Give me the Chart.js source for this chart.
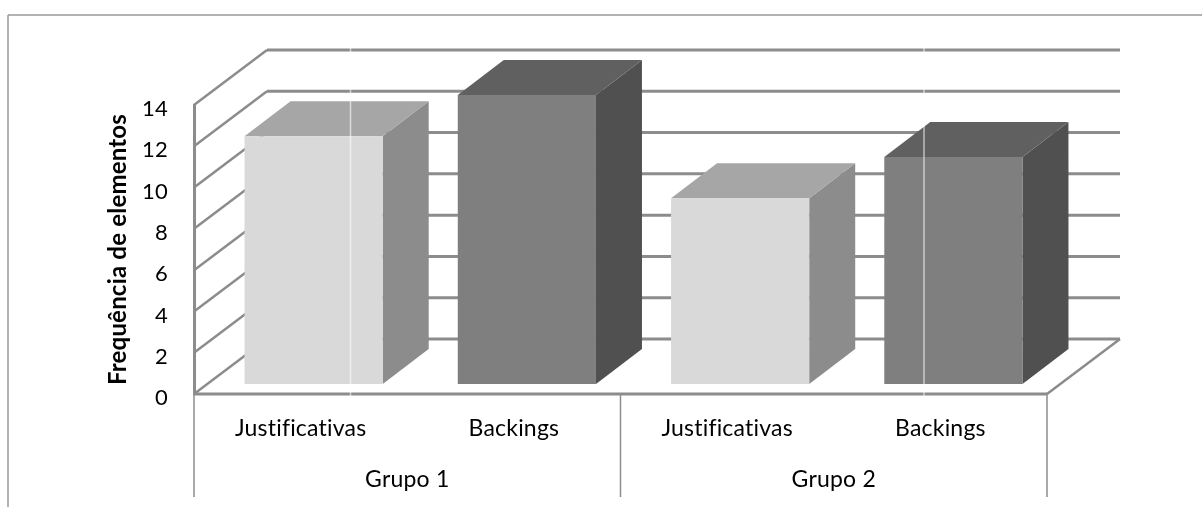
<!DOCTYPE html>
<html>
<head>
<meta charset="utf-8">
<style>
  html,body{margin:0;padding:0;background:#fff;overflow:hidden}
  canvas{display:block}
</style>
<script src="https://cdn.jsdelivr.net/npm/chart.js@4/dist/chart.umd.min.js"></script>
</head>
<body>
<canvas id="chart" width="1202" height="507"></canvas>
<script>
// data
const categories=['Justificativas','Backings','Justificativas','Backings'];
const groups=['Grupo 1','Grupo 2'];
const frequencias=[12,14,9,11];
const frontColors=['#d9d9d9','#7f7f7f','#d9d9d9','#7f7f7f'];
const topColors=['#a6a6a6','#606060','#a6a6a6','#606060'];
const sideColors=['#8c8c8c','#505050','#8c8c8c','#505050'];

// fake 3d: how far the back wall and the bars sit from the front plane
const wall={dx:73,dy:-55};
const barDepth={dx:46,dy:-35};
const barShift={dx:13,dy:-10};
const lineColor='#8c8c8c';
const font='Lato, "Open Sans", sans-serif';

function seg(ctx,x1,y1,x2,y2,color,w){
  ctx.beginPath();
  ctx.moveTo(x1,y1);
  ctx.lineTo(x2,y2);
  ctx.strokeStyle=color;
  ctx.lineWidth=w;
  ctx.stroke();
}
function poly(ctx,pts,color){
  ctx.beginPath();
  pts.forEach((p,i)=>i?ctx.lineTo(p[0],p[1]):ctx.moveTo(p[0],p[1]));
  ctx.closePath();
  ctx.fillStyle=color;
  ctx.fill();
}

const box3d={
  id:'box3d',
  beforeDraw(chart){
    // a little tracking also turns off the ti/fi ligatures in Lato
    chart.ctx.letterSpacing='0.2px';
  },
  beforeDatasetsDraw(chart){
    const {ctx,chartArea:a,scales:{y}}=chart;
    // outer frame, only top and left are there
    seg(ctx,8,15,chart.width,15,'#999',1.5);
    seg(ctx,8,15,8,chart.height,'#999',1.5);

    // walls: slanted part + back line per tick
    y.ticks.forEach(t=>{
      const py=y.getPixelForValue(t.value);
      seg(ctx,a.left,py,a.left+wall.dx,py+wall.dy,lineColor,2.5);
      seg(ctx,a.left+wall.dx,py+wall.dy,a.right+wall.dx,py+wall.dy,lineColor,3);
    });
    // floor right edge
    seg(ctx,a.right,a.bottom,a.right+wall.dx,a.bottom+wall.dy,lineColor,2.5);

    // side and top faces, the front face is the bar element
    ctx.save();
    ctx.translate(barShift.dx,barShift.dy);
    chart.getDatasetMeta(0).data.forEach((b,i)=>{
      const l=b.x-b.width/2,r=b.x+b.width/2;
      poly(ctx,[[r,b.y],[r+barDepth.dx,b.y+barDepth.dy],[r+barDepth.dx,b.base+barDepth.dy],[r,b.base]],sideColors[i]);
      poly(ctx,[[l,b.y],[l+barDepth.dx,b.y+barDepth.dy],[r+barDepth.dx,b.y+barDepth.dy],[r,b.y]],topColors[i]);
    });
    ctx.restore();
  },
  beforeDatasetDraw(chart){
    chart.ctx.save();
    chart.ctx.translate(barShift.dx,barShift.dy);
  },
  afterDatasetDraw(chart){
    chart.ctx.restore();
  },
  afterDraw(chart){
    const {ctx,chartArea:a,scales:{x}}=chart;
    // front floor edge and the group dividers under it
    seg(ctx,a.left-1,a.bottom,a.right,a.bottom,lineColor,3);
    const mid=(x.left+x.right)/2;
    [x.left,mid,x.right].forEach(px=>seg(ctx,px,a.bottom,px,497,lineColor,1.5));
    // pale vertical seams running through the plot
    [350.5,924].forEach(px=>seg(ctx,px,48,px,397,'rgba(255,255,255,0.6)',1.5));
  }
};

new Chart(document.getElementById('chart'),{
  type:'bar',
  data:{
    labels:categories,
    datasets:[{
      data:frequencias,
      xAxisID:'x',
      backgroundColor:frontColors,
      borderWidth:0,
      barPercentage:0.648,
      categoryPercentage:1,
      clip:false
    }]
  },
  options:{
    responsive:false,
    animation:false,
    events:[],
    layout:{padding:{top:105,right:155,left:0,bottom:0}},
    plugins:{legend:{display:false},title:{display:false},tooltip:{enabled:false}},
    scales:{
      y:{
        min:0,max:14,
        // blank first line pushes the digits down by half a line height
        ticks:{stepSize:2,color:'#000',padding:26,font:{family:font,size:22,lineHeight:'8px'},
          callback:v=>['',String(v)]},
        grid:{display:false,drawTicks:false},
        border:{display:true,color:lineColor,width:3},
        title:{display:true,text:'Frequência de elementos',color:'#000',
          font:{family:font,size:24,weight:'bold'},padding:{top:104,bottom:0}},
        afterFit(s){s.width=194;}
      },
      x:{
        position:'bottom',
        ticks:{color:'#000',padding:21,maxRotation:0,autoSkip:false,font:{family:font,size:23}},
        grid:{display:false,drawTicks:false},
        border:{display:false},
        afterFit(s){s.height=60;}
      },
      x2:{
        type:'category',
        labels:groups,
        position:'bottom',
        ticks:{color:'#000',padding:12,maxRotation:0,font:{family:font,size:23}},
        grid:{display:false,drawTicks:false},
        border:{display:false},
        afterFit(s){s.height=53;}
      }
    }
  },
  plugins:[box3d]
});
</script>
</body>
</html>
